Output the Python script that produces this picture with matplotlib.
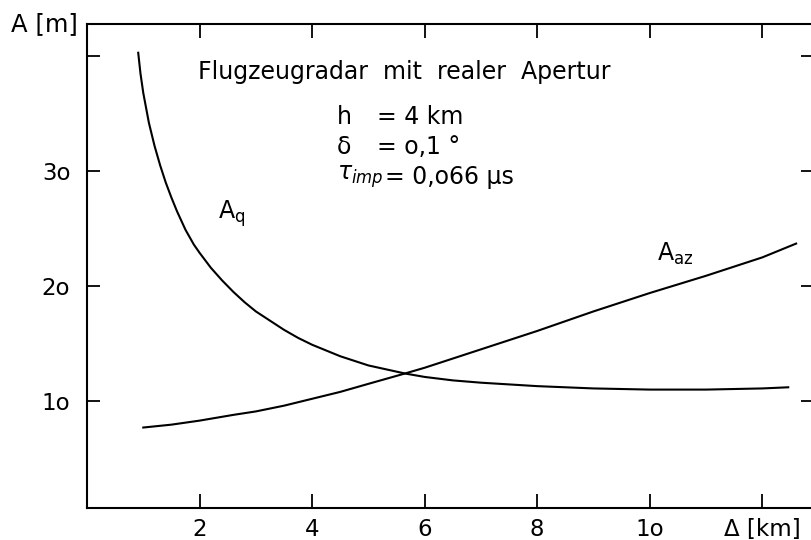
import matplotlib.pyplot as plt

# ground distance Delta [km] and resolution A [m]
dist_q = [0.91, 0.95, 1.0, 1.1, 1.2, 1.3, 1.4, 1.5, 1.6, 1.75, 1.9, 2.0, 2.2, 2.4,
          2.6, 2.8, 3.0, 3.25, 3.5, 3.75, 4.0, 4.5, 5.0, 5.65, 6.0, 6.5, 7.0,
          8.0, 9.0, 10.0, 11.0, 12.0, 12.46]
res_q = [40.3, 38.5, 36.8, 34.2, 32.2, 30.5, 29.0, 27.7, 26.5, 24.9, 23.6, 22.9,
         21.6, 20.5, 19.5, 18.6, 17.8, 17.0, 16.2, 15.5, 14.9, 13.9, 13.1, 12.4,
         12.1, 11.8, 11.6, 11.3, 11.1, 11.0, 11.0, 11.1, 11.2]

dist_az = [1.0, 1.5, 2.0, 2.6, 3.0, 3.5, 4.0, 4.5, 5.0, 5.65, 6.0, 7.0, 8.0, 9.0,
           10.0, 11.0, 12.0, 12.6]
res_az = [7.7, 7.95, 8.3, 8.8, 9.1, 9.6, 10.2, 10.8, 11.5, 12.4, 12.9, 14.5, 16.1,
          17.8, 19.4, 20.9, 22.5, 23.7]

x_ticks = [2, 4, 6, 8, 10, 12]
x_labels = ["2", "4", "6", "8", "1o", "Δ [km]"]
y_ticks = [10, 20, 30, 40]
y_labels = ["1o", "2o", "3o", ""]

plt.rcParams['mathtext.fontset'] = 'dejavusans'

fig = plt.figure(figsize=(8.11, 5.40), dpi=100)
ax = fig.add_axes([87 / 811, 32 / 540, 726 / 811, 484 / 540])

ax.plot(dist_q, res_q, color='black', lw=1.5, solid_joinstyle='round')
ax.plot(dist_az, res_az, color='black', lw=1.5, solid_joinstyle='round')

ax.set_xlim(0, 12.9)
ax.set_ylim(0.7, 42.8)
ax.set_xticks(x_ticks)
ax.set_xticklabels(x_labels)
ax.set_yticks(y_ticks)
ax.set_yticklabels(y_labels)

ax.spines['right'].set_visible(False)
for side in ['left', 'bottom', 'top']:
    ax.spines[side].set_linewidth(1.5)
ax.tick_params(axis='x', direction='in', length=10, width=1.3, top=True,
               labelsize=16.5, pad=7)
ax.tick_params(axis='y', direction='in', length=9, width=1.3, right=True,
               labelsize=16.5, pad=12)

# axis unit at the top left corner
ax.text(-0.012, 1.0, "A [m]", transform=ax.transAxes, ha='right', va='center',
        fontsize=17.5)

# title and parameters
ax.text(1.97, 38.6, "Flugzeugradar  mit  realer  Apertur", fontsize=17, va='center')
ax.text(4.44, 34.7, "h", fontsize=17, va='center')
ax.text(5.16, 34.7, "= 4 km", fontsize=17, va='center')
ax.text(4.44, 32.1, "δ", fontsize=17, va='center')
ax.text(5.16, 32.1, "= o,1 °", fontsize=17, va='center')
ax.text(4.44, 29.5, r"$\tau_{imp}$", fontsize=17, va='center')
ax.text(5.30, 29.5, "= 0,o66 μs", fontsize=17, va='center')

# curve names
ax.text(2.58, 26.3, r"A$_\mathregular{q}$", fontsize=17, ha='center', va='center')
ax.text(10.45, 22.8, r"A$_\mathregular{az}$", fontsize=17, ha='center', va='center')

fig.savefig("out.png", dpi=100)
